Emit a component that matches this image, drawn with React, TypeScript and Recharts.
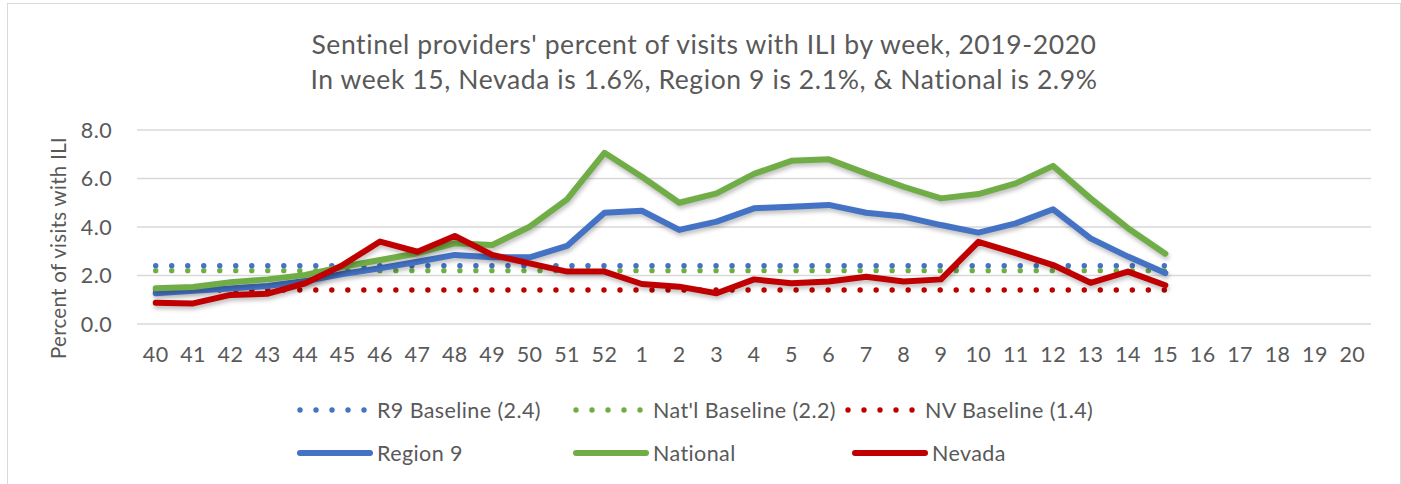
import { LineChart, Line, XAxis, YAxis, CartesianGrid, Legend, Label } from "recharts";

// ILI surveillance weeks, season 2019-2020
const weeks = [
  "40", "41", "42", "43", "44", "45", "46", "47", "48", "49", "50", "51", "52",
  "1", "2", "3", "4", "5", "6", "7", "8", "9", "10", "11", "12", "13", "14", "15",
  "16", "17", "18", "19", "20",
];

// percent of visits with ILI, weeks 40 .. 15
const region9 = [
  1.27, 1.37, 1.46, 1.57, 1.77, 2.06, 2.3, 2.57, 2.85, 2.75, 2.75, 3.22, 4.59,
  4.67, 3.88, 4.22, 4.77, 4.84, 4.91, 4.59, 4.43, 4.08, 3.77, 4.15, 4.73, 3.53, 2.78, 2.1,
];
const national = [
  1.47, 1.53, 1.72, 1.84, 2.02, 2.36, 2.64, 2.92, 3.33, 3.26, 4.01, 5.14, 7.06,
  6.07, 5.0, 5.39, 6.19, 6.73, 6.79, 6.21, 5.66, 5.18, 5.36, 5.8, 6.52, 5.18, 3.95, 2.9,
];
const nevada = [
  0.88, 0.85, 1.2, 1.25, 1.68, 2.43, 3.4, 2.98, 3.63, 2.85, 2.5, 2.16, 2.16,
  1.65, 1.54, 1.27, 1.84, 1.68, 1.75, 1.95, 1.75, 1.84, 3.39, 2.92, 2.43, 1.7, 2.16, 1.6,
];

const r9Baseline = 2.4;
const natBaseline = 2.2;
const nvBaseline = 1.4;

const yTicks = [0, 2, 4, 6, 8];

const reported = region9.length;
const chartData = weeks.map((week, i) => ({
  week,
  r9Base: i < reported ? r9Baseline : null,
  natBase: i < reported ? natBaseline : null,
  nvBase: i < reported ? nvBaseline : null,
  region9: i < reported ? region9[i] : null,
  national: i < reported ? national[i] : null,
  nevada: i < reported ? nevada[i] : null,
}));

const series = [
  { key: "r9Base", name: "R9 Baseline (2.4)", color: "#4472C4", dotted: true },
  { key: "natBase", name: "Nat'l Baseline (2.2)", color: "#70AD47", dotted: true },
  { key: "nvBase", name: "NV Baseline (1.4)", color: "#C00000", dotted: true },
  { key: "region9", name: "Region 9", color: "#4472C4", dotted: false },
  { key: "national", name: "National", color: "#70AD47", dotted: false },
  { key: "nevada", name: "Nevada", color: "#C00000", dotted: false },
];

const FONT = "Lato, 'Open Sans', sans-serif";
const TEXT = "#595959";
const SPACING = "0.4px";

// legend slots (left x, row top) in legend box coords
const legendSlots = [
  [297, 0], [573, 0], [845, 0],
  [297, 43], [573, 43], [852, 43],
];

function ChartLegend() {
  return (
    <div style={{ position: "relative", width: 1401, height: 70 }}>
      {series.map((s, i) => {
        const [x, y] = legendSlots[i];
        return (
          <div
            key={s.key}
            style={{ position: "absolute", left: x, top: y, height: 26, display: "flex", alignItems: "center" }}
          >
            <svg width={80} height={26} style={{ flex: "none" }}>
              {s.dotted ? (
                [0, 1, 2, 3, 4].map((d) => (
                  <circle key={d} cx={3 + d * 16} cy={13} r={2.7} fill={s.color} />
                ))
              ) : (
                <line x1={3} x2={73} y1={13} y2={13} stroke={s.color} strokeWidth={6} strokeLinecap="round" />
              )}
            </svg>
            <span
              style={{ fontFamily: FONT, fontSize: 21.5, letterSpacing: SPACING, color: TEXT, whiteSpace: "nowrap" }}
            >
              {s.name}
            </span>
          </div>
        );
      })}
    </div>
  );
}

export default function App() {
  const tickStyle = { fill: TEXT, fontSize: 21.5, fontFamily: FONT, letterSpacing: SPACING };
  return (
    <div style={{ position: "absolute", left: 0, top: 0, width: 1401, height: 484, background: "#fff", overflow: "hidden" }}>
      <style>{`.ili-solid path { filter: drop-shadow(1px 3px 2px rgba(0,0,0,0.25)); }`}</style>
      <div
        style={{
          position: "absolute", left: 7, top: 3, width: 1394, height: 481,
          border: "1.5px solid #d9d9d9", borderBottom: "none", boxSizing: "border-box",
        }}
      />
      <div
        style={{
          position: "absolute", left: 7, top: 27, width: 1394, textAlign: "center",
          fontFamily: FONT, fontSize: 26.5, letterSpacing: "0.6px", color: TEXT, lineHeight: "35px",
        }}
      >
        <div>Sentinel providers' percent of visits with ILI by week, 2019-2020</div>
        <div>In week 15, Nevada is 1.6%, Region 9 is 2.1%, &amp; National is 2.9%</div>
      </div>
      <LineChart
        width={1401}
        height={484}
        data={chartData}
        margin={{ top: 130, right: 30, left: 0, bottom: 0 }}
        style={{ position: "absolute", left: 0, top: 0 }}
      >
        <CartesianGrid vertical={false} stroke="#d9d9d9" strokeWidth={1.5} />
        <XAxis
          dataKey="week"
          height={160}
          axisLine={false}
          tickLine={false}
          tickSize={0}
          tickMargin={23}
          interval={0}
          padding={{ left: 18.7, right: 18.7 }}
          tick={tickStyle}
        />
        <YAxis
          width={137}
          domain={[0, 8]}
          ticks={yTicks}
          axisLine={false}
          tickLine={false}
          tickSize={0}
          tickMargin={25}
          tickFormatter={(v) => Number(v).toFixed(1)}
          tick={tickStyle}
        >
          <Label
            content={() => (
              <text
                x={58}
                y={248}
                transform="rotate(-90 58 248)"
                textAnchor="middle"
                dominantBaseline="central"
                fill={TEXT}
                fontSize={20.5}
                letterSpacing="0.3px"
                fontFamily={FONT}
              >
                Percent of visits with ILI
              </text>
            )}
          />
        </YAxis>
        <Legend
          layout="vertical"
          align="center"
          verticalAlign="middle"
          wrapperStyle={{ left: 0, top: 397, width: 1401 }}
          content={() => <ChartLegend />}
        />
        {series.map((s) => (
          <Line
            key={s.key}
            dataKey={s.key}
            name={s.name}
            type="linear"
            stroke={s.color}
            strokeWidth={s.dotted ? 5.4 : 6}
            strokeDasharray={s.dotted ? "0.01 16" : undefined}
            strokeLinecap="round"
            strokeLinejoin="round"
            className={s.dotted ? undefined : "ili-solid"}
            dot={false}
            activeDot={false}
            isAnimationActive={false}
          />
        ))}
      </LineChart>
    </div>
  );
}
